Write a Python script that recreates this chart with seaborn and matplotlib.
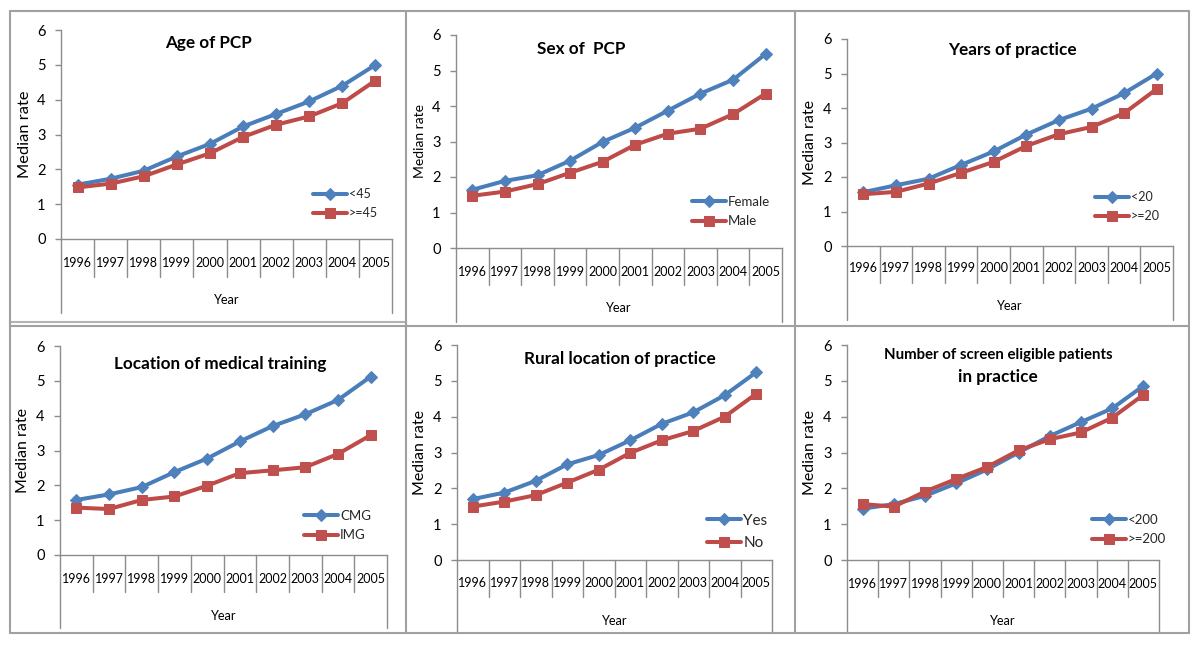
import matplotlib
matplotlib.use("Agg")
import matplotlib.pyplot as plt
import matplotlib.transforms as mtransforms
from matplotlib.lines import Line2D
import numpy as np
import pandas as pd
import seaborn as sns

# ---------------- data ----------------
years = ['1996', '1997', '1998', '1999', '2000', '2001', '2002', '2003', '2004', '2005']

age_title = 'Age of PCP'
age_labels = ['<45', '>=45']
age_young = [1.56, 1.73, 1.96, 2.37, 2.73, 3.23, 3.59, 3.95, 4.40, 5.00]
age_old = [1.48, 1.59, 1.80, 2.14, 2.46, 2.93, 3.28, 3.52, 3.90, 4.55]

sex_title = 'Sex of  PCP'
sex_labels = ['Female', 'Male']
sex_female = [1.64, 1.89, 2.05, 2.46, 2.99, 3.39, 3.87, 4.35, 4.74, 5.47]
sex_male = [1.47, 1.59, 1.80, 2.12, 2.43, 2.91, 3.22, 3.36, 3.77, 4.35]

yrs_title = 'Years of practice'
yrs_labels = ['<20', '>=20']
yrs_lt20 = [1.56, 1.76, 1.95, 2.35, 2.74, 3.23, 3.65, 3.98, 4.43, 5.00]
yrs_ge20 = [1.50, 1.57, 1.81, 2.12, 2.44, 2.90, 3.24, 3.45, 3.85, 4.55]

loc_title = 'Location of medical training'
loc_labels = ['CMG', 'IMG']
loc_cmg = [1.58, 1.74, 1.95, 2.38, 2.77, 3.26, 3.70, 4.04, 4.45, 5.12]
loc_img = [1.36, 1.32, 1.58, 1.68, 1.99, 2.35, 2.43, 2.52, 2.90, 3.44]

rur_title = 'Rural location of practice'
rur_labels = ['Yes', 'No']
rur_yes = [1.70, 1.88, 2.21, 2.67, 2.93, 3.34, 3.80, 4.12, 4.60, 5.24]
rur_no = [1.49, 1.63, 1.81, 2.16, 2.52, 2.99, 3.34, 3.60, 4.00, 4.64]

num_title_1 = 'Number of screen eligible patients'
num_title_2 = 'in practice'
num_labels = ['<200', '>=200']
num_lt200 = [1.43, 1.56, 1.79, 2.14, 2.53, 3.00, 3.46, 3.85, 4.23, 4.86]
num_ge200 = [1.56, 1.49, 1.91, 2.26, 2.60, 3.06, 3.37, 3.56, 3.97, 4.61]

y_label = 'Median rate'
x_label = 'Year'

# ---------------- style ----------------
sns.set_theme(style='white')
plt.rcParams['font.family'] = ['Lato', 'DejaVu Sans']

W, H = 1200, 652
fig = plt.figure(figsize=(W / 100, H / 100), dpi=100)
fig.patch.set_facecolor('white')

BLUE_LINE = '#4A7EBB'
BLUE_MARK = '#4F81BD'
RED_LINE = '#BE4B48'
RED_MARK = '#C0504D'
GRAY = '#8C8C8C'
FRAME = '#A0A0A0'

# layout in pixels: axis left, right, top(6), bottom(0), divider bottom, outer bottom,
# title x, title y, legend x, legend first row y, ylabel x, Year label y, year ticklabel y
layout = [
    dict(l=61, r=392, t=30, b=239, div=277, out=313, tx=208, ty=43, lx=313, ly=195, yl=25, xl=300, tk=263, lfs=9, ylfs=11.8),
    dict(l=456, r=782, t=35, b=248, div=285, out=322, tx=581, ty=49, lx=692, ly=203, yl=420, xl=308, tk=272, lfs=9.5, ylfs=10),
    dict(l=847, r=1173, t=39, b=246, div=283, out=320, tx=1012, ty=50, lx=1095, ly=198, yl=810, xl=306, tk=268, lfs=9, ylfs=11.5),
    dict(l=60, r=387, t=346, b=555, div=592, out=628, tx=220, ty=364, lx=304, ly=517, yl=23, xl=616, tk=579, lfs=9.5, ylfs=11.5),
    dict(l=457, r=772, t=345, b=560, div=597, out=633, tx=620, ty=359, lx=707, ly=522, yl=420, xl=621, tk=583, lfs=11, ylfs=11.5),
    dict(l=847, r=1159, t=345, b=560, div=597, out=633, tx=998, ty=355, lx=1092, ly=521, yl=810, xl=621, tk=584, lfs=9.5, ylfs=11.5),
]

panels = [
    (age_title, age_labels, age_young, age_old),
    (sex_title, sex_labels, sex_female, sex_male),
    (yrs_title, yrs_labels, yrs_lt20, yrs_ge20),
    (loc_title, loc_labels, loc_cmg, loc_img),
    (rur_title, rur_labels, rur_yes, rur_no),
    (None, num_labels, num_lt200, num_ge200),
]

pos = np.arange(len(years))

for (title, labels, s1, s2), L in zip(panels, layout):
    axw = L['r'] - L['l']
    axh = L['b'] - L['t']
    ax = fig.add_axes([L['l'] / W, 1 - L['b'] / H, axw / W, axh / H])
    ax.set_facecolor('none')

    df1 = pd.DataFrame({'pos': pos, 'rate': s1})
    df2 = pd.DataFrame({'pos': pos, 'rate': s2})
    sns.lineplot(data=df1, x='pos', y='rate', ax=ax, color=BLUE_LINE, lw=2.9,
                 marker='D', markersize=6, markerfacecolor=BLUE_MARK,
                 markeredgecolor=BLUE_MARK, label=labels[0], zorder=3)
    sns.lineplot(data=df2, x='pos', y='rate', ax=ax, color=RED_LINE, lw=2.9,
                 marker='s', markersize=6.5, markerfacecolor=RED_MARK,
                 markeredgecolor=RED_MARK, label=labels[1], zorder=3)

    ax.set_xlim(-0.5, len(years) - 0.5)
    ax.set_ylim(0, 6)
    ax.set_yticks(range(7))
    ax.set_xticks(pos)
    ax.set_xticklabels(years)
    ax.tick_params(axis='y', which='major', direction='out', length=4, width=1,
                   color=GRAY, pad=7, labelsize=10.5, labelcolor='black', left=True)
    ax.tick_params(axis='x', which='major', length=0,
                   pad=(L['tk'] - L['b']) * 0.72, labelsize=9, labelcolor='black')
    for lbl in ax.get_xticklabels():
        lbl.set_va('center')

    for side in ['top', 'right']:
        ax.spines[side].set_visible(False)
    for side in ['left', 'bottom']:
        ax.spines[side].set_color(GRAY)
        ax.spines[side].set_linewidth(1)

    # category dividers (multi-level category axis)
    trans = mtransforms.blended_transform_factory(ax.transData, ax.transAxes)
    div_frac = -(L['div'] - L['b']) / axh
    out_frac = -(L['out'] - L['b']) / axh
    for i in range(len(years) + 1):
        xp = i - 0.5
        yb = out_frac if i in (0, len(years)) else div_frac
        ax.add_line(Line2D([xp, xp], [0, yb], transform=trans, clip_on=False,
                           color=GRAY, lw=1))

    ax.set_ylabel(y_label, fontsize=L['ylfs'], color='black')
    ax.yaxis.set_label_coords(-(L['l'] - L['yl']) / axw, 0.5)
    ax.yaxis.label.set_va('center')
    ax.set_xlabel(x_label, fontsize=9.2, color='black')
    ax.xaxis.set_label_coords(0.5, -(L['xl'] - L['b']) / axh)
    ax.xaxis.label.set_va('center')

    fs = L['lfs']
    leg = ax.legend(loc='upper left',
                    bbox_to_anchor=(L['lx'] / W, 1 - (L['ly'] - fs * 0.75) / H),
                    bbox_transform=fig.transFigure, frameon=False, borderpad=0,
                    borderaxespad=0, handlelength=34 / (fs / 0.72), handletextpad=0.15,
                    labelspacing=0.55, fontsize=fs, numpoints=1)

    if title is not None:
        fig.text(L['tx'] / W, 1 - L['ty'] / H, title, ha='center', va='center',
                 fontsize=12.3, fontweight='bold', color='black')
    else:
        fig.text(L['tx'] / W, 1 - L['ty'] / H, num_title_1, ha='center', va='center',
                 fontsize=10.8, fontweight='bold', color='black')
        fig.text(L['tx'] / W, 1 - 377 / H, num_title_2, ha='center', va='center',
                 fontsize=12.3, fontweight='bold', color='black')

# ---------------- table frame ----------------
def fline(x0, y0, x1, y1, **kw):
    fig.add_artist(Line2D([x0 / W, x1 / W], [1 - y0 / H, 1 - y1 / H],
                          transform=fig.transFigure, color=FRAME, lw=1.5, **kw))

fline(9.5, 11, 1189, 11)
fline(9.5, 633, 1189, 633)
fline(9.5, 11, 9.5, 633)
fline(1189, 11, 1189, 633)
fline(405.5, 11, 405.5, 633)
fline(795, 11, 795, 633)
fline(9.5, 326, 1189, 326)
fline(9.5, 322, 405.5, 322, alpha=0.8)

fig.savefig('out.png', dpi=100, facecolor='white')
